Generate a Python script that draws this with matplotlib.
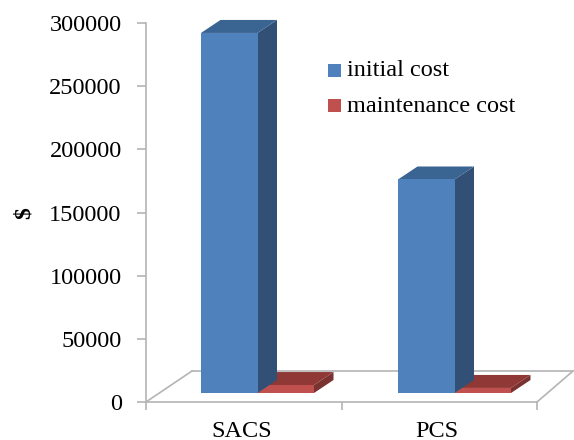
import matplotlib
matplotlib.use("Agg")
import matplotlib.pyplot as plt
from matplotlib.patches import Polygon, Rectangle

categories = ["SACS", "PCS"]
initial_cost = [285000, 169000]
maintenance_cost = [6300, 4000]
yticks = [0, 50000, 100000, 150000, 200000, 250000, 300000]

W, H = 574, 440
plt.rcParams["font.family"] = "Liberation Serif"
fig = plt.figure(figsize=(W / 100, H / 100), dpi=100)

# plot area in pixels: x 146-537, y 402-23
ax = fig.add_axes([146 / W, 1 - 402 / H, (537 - 146) / W, (402 - 23) / H])
ax.set_xlim(0, 2)
ax.set_ylim(0, 300000)

# pixel sizes turned into data units
px_x = 2 / (537 - 146)
px_y = 300000 / (402 - 23)

grey = "#b4b4b4"
ddx, ddy = 46 * px_x, 31 * px_y
ax.plot([0, 0], [0, 300000], color=grey, lw=1.2, clip_on=False)
ax.plot([0, ddx], [0, ddy], color=grey, lw=1.2, clip_on=False)
ax.plot([ddx, 2 + 36 * px_x], [ddy, ddy], color=grey, lw=1.2, clip_on=False)
ax.plot([2, 2 + 36 * px_x], [0, ddy], color=grey, lw=1.2, clip_on=False)
ax.plot([0, 2], [0, 0], color=grey, lw=1.2, clip_on=False)


def bar3d(x0, width, value, front, side, top):
    base = 9 * px_y
    dx, dy = 19.5 * px_x, 13 * px_y
    y1 = base + value
    ax.add_patch(Polygon([(x0 + width, base), (x0 + width + dx, base + dy),
                          (x0 + width + dx, y1 + dy), (x0 + width, y1)],
                         fc=side, ec="none", clip_on=False, zorder=3))
    ax.add_patch(Polygon([(x0, y1), (x0 + dx, y1 + dy), (x0 + width + dx, y1 + dy),
                          (x0 + width, y1)], fc=top, ec="none", clip_on=False, zorder=3))
    ax.add_patch(Rectangle((x0, base), width, value, fc=front, ec="none", clip_on=False, zorder=3))


bar_w = 56.5 * px_x
for i in range(len(categories)):
    x0 = i + 55 * px_x + i * 1.5 * px_x
    bar3d(x0 + bar_w, bar_w, maintenance_cost[i], "#c0504d", "#7a3230", "#8f3836")
    bar3d(x0, bar_w, initial_cost[i], "#4f81bd", "#325075", "#3a6491")

ax.set_xticks([0, 1, 2])
ax.set_xticklabels([])
ax.tick_params(axis="x", length=5.8, color=grey, width=1.2)
ax.set_yticks(yticks)
ax.tick_params(axis="y", length=6.5, color=grey, width=1.2, labelsize=17.5, pad=11)
for s in ax.spines.values():
    s.set_visible(False)
ax.patch.set_alpha(0)

label_x = [242, 437]
for i, c in enumerate(categories):
    fig.text(label_x[i] / W, 1 - 431 / H, c, ha="center", va="center", fontsize=17.5)
fig.text(24 / W, 1 - 213 / H, "$", rotation=90, ha="center", va="center", fontsize=17,
         fontweight="bold", parse_math=False)

# legend
fig.patches.append(Rectangle((328 / W, 1 - 77 / H), 13 / W, 13 / H, fc="#4f81bd", ec="none",
                             transform=fig.transFigure))
fig.patches.append(Rectangle((328 / W, 1 - 112 / H), 13 / W, 13 / H, fc="#c0504d", ec="none",
                             transform=fig.transFigure))
fig.text(347 / W, 1 - 71 / H, "initial cost", va="center", fontsize=17.5)
fig.text(347 / W, 1 - 106 / H, "maintenance cost", va="center", fontsize=17.5)

fig.savefig("out.png", dpi=100)
